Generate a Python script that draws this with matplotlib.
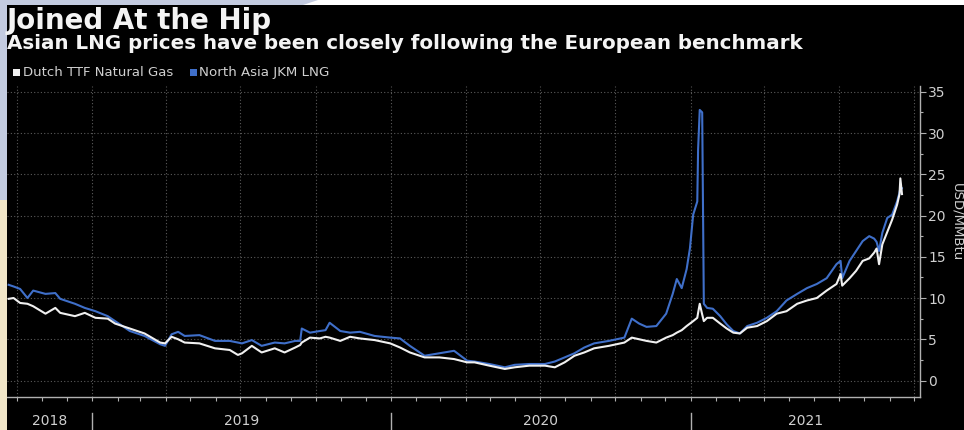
import matplotlib
matplotlib.use("Agg")
import matplotlib.pyplot as plt
import matplotlib.dates as mdates
import matplotlib.transforms as mtransforms
from matplotlib.patches import Rectangle, Polygon
import pandas as pd

# ---------------- data ----------------
dates = [
    "2018-09-21", "2018-09-27", "2018-10-05", "2018-10-14", "2018-10-21", "2018-11-05",
    "2018-11-17", "2018-11-23", "2018-12-11", "2018-12-23", "2019-01-05", "2019-01-20",
    "2019-01-29", "2019-02-16", "2019-03-06", "2019-03-25", "2019-03-31", "2019-04-08",
    "2019-04-16", "2019-04-24", "2019-05-12", "2019-05-31", "2019-06-18", "2019-06-28",
    "2019-07-03", "2019-07-15", "2019-07-27", "2019-08-12", "2019-08-24", "2019-09-06",
    "2019-09-12", "2019-09-14", "2019-09-24", "2019-10-06", "2019-10-13", "2019-10-18",
    "2019-10-31", "2019-11-12", "2019-11-24", "2019-12-12", "2019-12-31", "2020-01-12",
    "2020-01-24", "2020-02-11", "2020-02-29", "2020-03-18", "2020-04-03", "2020-04-12",
    "2020-04-30", "2020-05-19", "2020-05-31", "2020-06-18", "2020-07-07", "2020-07-19",
    "2020-07-31", "2020-08-12", "2020-08-24", "2020-09-05", "2020-09-23", "2020-10-12",
    "2020-10-21", "2020-10-30", "2020-11-08", "2020-11-20", "2020-12-02", "2020-12-10",
    "2020-12-15", "2020-12-21", "2020-12-27", "2020-12-31", "2021-01-04", "2021-01-09",
    "2021-01-10", "2021-01-12", "2021-01-15", "2021-01-17", "2021-01-21", "2021-01-28",
    "2021-02-06", "2021-02-14", "2021-02-22", "2021-03-02", "2021-03-11", "2021-03-23",
    "2021-04-04", "2021-04-16", "2021-04-28", "2021-05-11", "2021-05-23", "2021-06-04",
    "2021-06-16", "2021-06-28", "2021-07-03", "2021-07-05", "2021-07-14", "2021-07-22",
    "2021-07-30", "2021-08-07", "2021-08-13", "2021-08-16", "2021-08-19", "2021-08-23",
    "2021-08-29", "2021-09-04", "2021-09-10", "2021-09-13", "2021-09-14", "2021-09-16",
]

ttf = [
    9.9, 10.0, 9.4, 9.3, 9.0, 8.1,
    8.8, 8.2, 7.8, 8.2, 7.6, 7.5,
    6.9, 6.3, 5.7, 4.6, 4.5, 5.3,
    5.0, 4.6, 4.5, 3.9, 3.7, 3.1,
    3.3, 4.2, 3.4, 3.9, 3.4, 4.0,
    4.3, 4.6, 5.2, 5.1, 5.3, 5.2,
    4.8, 5.3, 5.1, 4.9, 4.5, 4.0,
    3.4, 2.8, 2.8, 2.6, 2.2, 2.2,
    1.8, 1.4, 1.6, 1.8, 1.8, 1.6,
    2.2, 3.0, 3.4, 3.9, 4.2, 4.6,
    5.2, 5.0, 4.8, 4.6, 5.2, 5.5,
    5.8, 6.1, 6.6, 6.9, 7.2, 7.6,
    8.2, 9.3, 8.0, 7.2, 7.6, 7.6,
    6.9, 6.3, 5.8, 5.7, 6.4, 6.6,
    7.2, 8.1, 8.4, 9.3, 9.7, 10.0,
    10.9, 11.7, 12.9, 11.5, 12.4, 13.3,
    14.5, 14.8, 15.5, 16.0, 14.1, 16.5,
    18.0, 19.5, 21.3, 22.6, 24.5, 22.6,
]

jkm = [
    11.6, 11.4, 11.1, 10.0, 10.9, 10.5,
    10.6, 9.9, 9.3, 8.8, 8.4, 7.8,
    7.2, 6.0, 5.4, 4.4, 4.2, 5.6,
    5.9, 5.4, 5.5, 4.8, 4.8, 4.6,
    4.5, 4.9, 4.2, 4.6, 4.5, 4.8,
    4.8, 6.3, 5.8, 6.0, 6.1, 7.0,
    6.0, 5.8, 5.9, 5.4, 5.2, 5.1,
    4.2, 3.0, 3.3, 3.6, 2.4, 2.3,
    2.0, 1.6, 1.9, 2.0, 2.0, 2.3,
    2.8, 3.3, 4.0, 4.5, 4.8, 5.2,
    7.5, 6.9, 6.5, 6.6, 8.1, 10.5,
    12.3, 11.2, 13.5, 16.0, 20.1, 21.7,
    28.0, 32.8, 32.5, 9.3, 8.8, 8.7,
    7.8, 6.8, 6.0, 5.7, 6.6, 7.0,
    7.6, 8.4, 9.7, 10.5, 11.2, 11.7,
    12.4, 14.1, 14.5, 12.4, 14.5, 15.7,
    16.9, 17.5, 17.2, 16.8, 15.7, 17.9,
    19.7, 20.1, 21.7, 22.8, 23.3, 23.3,
]

series_names = ["Dutch TTF Natural Gas", "North Asia JKM LNG"]
year_labels = ["2018", "2019", "2020", "2021"]
y_ticks = [0, 5, 10, 15, 20, 25, 30, 35]

title = "Joined At the Hip"
subtitle = "Asian LNG prices have been closely following the European benchmark"
y_label = "USD/MMBtu"

# ---------------- styling ----------------
W, H = 964, 430
WHITE = "#f0f0f0"
BLUE = "#3f6fc9"
GRID = "#5a5a5a"
AXIS = "#b0b0b0"
TXT = "#d0d0d0"

fig = plt.figure(figsize=(W / 100, H / 100), dpi=100)
fig.patch.set_facecolor("black")

def px(x, y):
    return (x / W, 1 - y / H)

# screenshot frame artifacts (white top band, bluish corner, beige left strip)
fig.patches.append(Rectangle(px(0, 5), 1, 5 / H, transform=fig.transFigure,
                             facecolor="#ffffff", edgecolor="none", zorder=0))
fig.patches.append(Polygon([px(0, 0), px(318, 0), px(303, 5), px(7, 5), px(7, 200), px(0, 200)],
                           closed=True, transform=fig.transFigure,
                           facecolor="#c3cbe0", edgecolor="none", zorder=0))
fig.patches.append(Rectangle(px(0, 430), 7 / W, 230 / H, transform=fig.transFigure,
                             facecolor="#f1e6c8", edgecolor="none", zorder=0))

ax_left, ax_right, ax_top, ax_bottom = 7, 920, 86, 397
ax = fig.add_axes([ax_left / W, (H - ax_bottom) / H, (ax_right - ax_left) / W,
                   (ax_bottom - ax_top) / H])
ax.set_facecolor("black")

d = pd.to_datetime(dates)
ax.plot(d, jkm, color=BLUE, lw=1.5, zorder=3, solid_joinstyle="round")
ax.plot(d, ttf, color=WHITE, lw=1.5, zorder=4, solid_joinstyle="round")

x0, x1 = pd.Timestamp("2018-09-19"), pd.Timestamp("2021-10-08")
ax.set_xlim(x0, x1)
ax.set_ylim(-2, 35.7)

# y axis on the right
ax.yaxis.tick_right()
ax.set_yticks(y_ticks)
ax.set_yticks([v + 2.5 for v in y_ticks[:-1]], minor=True)
ax.tick_params(axis="y", which="major", length=4, width=0.8, color=AXIS,
               labelcolor=TXT, labelsize=10, pad=2)
ax.tick_params(axis="y", which="minor", length=2.5, width=0.8, color=AXIS)

# x axis: quarterly grid, monthly ticks, no labels
ax.xaxis.set_major_locator(mdates.MonthLocator(bymonth=[1, 4, 7, 10]))
ax.xaxis.set_minor_locator(mdates.MonthLocator())
ax.tick_params(axis="x", which="both", length=3, width=0.8, color=AXIS,
               labelbottom=False)

ax.grid(True, which="major", color=GRID, linestyle=(0, (1, 2)), linewidth=0.8)

for s in ["left", "top"]:
    ax.spines[s].set_visible(False)
for s in ["right", "bottom"]:
    ax.spines[s].set_color(AXIS)
    ax.spines[s].set_linewidth(1.0)

# year labels and separators under the axis
trans = mtransforms.blended_transform_factory(ax.transData, ax.transAxes)
ah = ax_bottom - ax_top
for lab in year_labels:
    ys = pd.Timestamp(f"{lab}-01-01")
    ye = pd.Timestamp(f"{int(lab) + 1}-01-01")
    a, b = max(ys, x0), min(ye, x1)
    mid = a + (b - a) / 2
    ax.text(mid, -(421 - ax_bottom) / ah, lab, transform=trans, ha="center",
            va="center", color=TXT, fontsize=10)
    if ys > x0:
        ax.plot([ys, ys], [-(413 - ax_bottom) / ah, -(432 - ax_bottom) / ah],
                transform=trans, color=AXIS, lw=1.0, clip_on=False)

# titles
def fit(t, width_px):
    r = fig.canvas.get_renderer()
    w = t.get_window_extent(r).width
    t.set_fontsize(t.get_fontsize() * width_px / w)

t1 = fig.text(*px(7, 29), title, color="#f4f4f4", fontweight="bold", fontsize=15,
              ha="left", va="baseline", family="DejaVu Sans")
t2 = fig.text(*px(7, 49), subtitle, color="#f4f4f4", fontweight="bold", fontsize=10,
              ha="left", va="baseline", family="DejaVu Sans")
fig.canvas.draw()
fit(t1, 265)
fit(t2, 798)

# legend
fig.patches.append(Rectangle(px(13, 76), 7 / W, 7 / H, transform=fig.transFigure,
                             facecolor=WHITE, edgecolor="none"))
fig.patches.append(Rectangle(px(190, 76), 7 / W, 7 / H, transform=fig.transFigure,
                             facecolor=BLUE, edgecolor="none"))
l1 = fig.text(*px(23, 72.5), series_names[0], color=TXT, fontsize=7.5, ha="left", va="center")
l2 = fig.text(*px(199, 72.5), series_names[1], color=TXT, fontsize=7.5, ha="left", va="center")
fig.canvas.draw()
fit(l1, 150)
fit(l2, 130)

fig.text(*px(957, 222), y_label, rotation=270, color=TXT, fontsize=9.5,
         ha="center", va="center")

fig.savefig("out.png", dpi=100, facecolor=fig.get_facecolor())
